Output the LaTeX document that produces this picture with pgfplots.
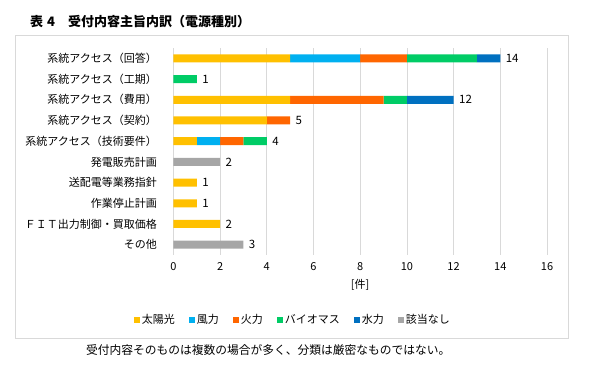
\documentclass[border=0pt]{standalone}
\usepackage{fontspec}
\setmainfont{Noto Sans CJK JP}
\usepackage{pgfplots}
\pgfplotsset{compat=1.18}
\definecolor{solar}{HTML}{FFC000}
\definecolor{wind}{HTML}{00B0F0}
\definecolor{fire}{HTML}{FF6600}
\definecolor{bio}{HTML}{00CC66}
\definecolor{hydro}{HTML}{0070C0}
\definecolor{graybar}{HTML}{A6A6A6}
\definecolor{gridgray}{HTML}{D9D9D9}
\begin{document}
\begin{tikzpicture}
\useasboundingbox (0pt,0pt) rectangle (595pt,378pt);
\draw[color=gridgray, line width=0.8pt] (15pt,40pt) rectangle (568pt,343pt);
\node[anchor=west, inner sep=0pt, font=\fontsize{13}{15}\selectfont\bfseries] at (30pt,356pt) {表\hspace{4pt}4\hspace{13pt}受付内容主旨内訳（電源種別）};
\node[anchor=west, inner sep=0pt, font=\fontsize{11.75}{13}\selectfont] at (86pt,28pt) {受付内容そのものは複数の場合が多く、分類は厳密なものではない。};
\begin{axis}[
  at={(173.4pt,123pt)}, anchor=south west,
  scale only axis, width=373.6pt, height=207pt,
  xbar stacked, bar width=8pt,
  xmin=0, xmax=16, ymin=-0.5, ymax=9.5,
  y dir=reverse,
  ytick={0,...,9},
  yticklabels={系統アクセス（回答）,系統アクセス（工期）,系統アクセス（費用）,系統アクセス（契約）,系統アクセス（技術要件）,発電販売計画,送配電等業務指針,作業停止計画,ＦＩＴ出力制御・買取価格,その他},
  xtick={0,2,...,16},
  xmajorgrids, grid style={color=gridgray, line width=0.8pt},
  axis line style={draw=none},
  major tick length=0pt,
  tick label style={font=\fontsize{11}{13}\selectfont},
  /pgf/number format/assume math mode=true,
  yticklabel style={xshift=-13pt},
  xticklabel style={yshift=-4pt},
  xlabel={[件]},
  xlabel style={at={(axis description cs:0.5,-0.145)}, anchor=center, font=\fontsize{11}{13}\selectfont},
  legend columns=6,
  legend style={at={(0.32,-0.314)}, anchor=center, draw=none, font=\fontsize{11}{13}\selectfont,
    /tikz/every even column/.append style={column sep=12pt},
    inner sep=0pt},
  legend image code/.code={\fill[#1] (0pt,-3pt) rectangle (6pt,3pt);},
]
\addplot[draw=none, fill=solar] coordinates {(5,0) (0,1) (5,2) (4,3) (1,4) (0,5) (1,6) (1,7) (2,8) (0,9)};
\addplot[draw=none, fill=wind] coordinates {(3,0) (0,1) (0,2) (0,3) (1,4) (0,5) (0,6) (0,7) (0,8) (0,9)};
\addplot[draw=none, fill=fire] coordinates {(2,0) (0,1) (4,2) (1,3) (1,4) (0,5) (0,6) (0,7) (0,8) (0,9)};
\addplot[draw=none, fill=bio] coordinates {(3,0) (1,1) (1,2) (0,3) (1,4) (0,5) (0,6) (0,7) (0,8) (0,9)};
\addplot[draw=none, fill=hydro] coordinates {(1,0) (0,1) (2,2) (0,3) (0,4) (0,5) (0,6) (0,7) (0,8) (0,9)};
\addplot[draw=none, fill=graybar] coordinates {(0,0) (0,1) (0,2) (0,3) (0,4) (2,5) (0,6) (0,7) (0,8) (3,9)};
\addplot[draw opacity=0, fill opacity=0, forget plot, nodes near coords, point meta=explicit symbolic,
  nodes near coords style={anchor=west, xshift=2pt, font=\fontsize{11.5}{13}\selectfont, text=black, text opacity=1}]
  coordinates {(0.001,0)[14] (0.001,1)[1] (0.001,2)[12] (0.001,3)[5] (0.001,4)[4] (0.001,5)[2] (0.001,6)[1] (0.001,7)[1] (0.001,8)[2] (0.001,9)[3]};
\legend{太陽光,風力,火力,バイオマス,水力,該当なし}
\end{axis}
\end{tikzpicture}
\end{document}
